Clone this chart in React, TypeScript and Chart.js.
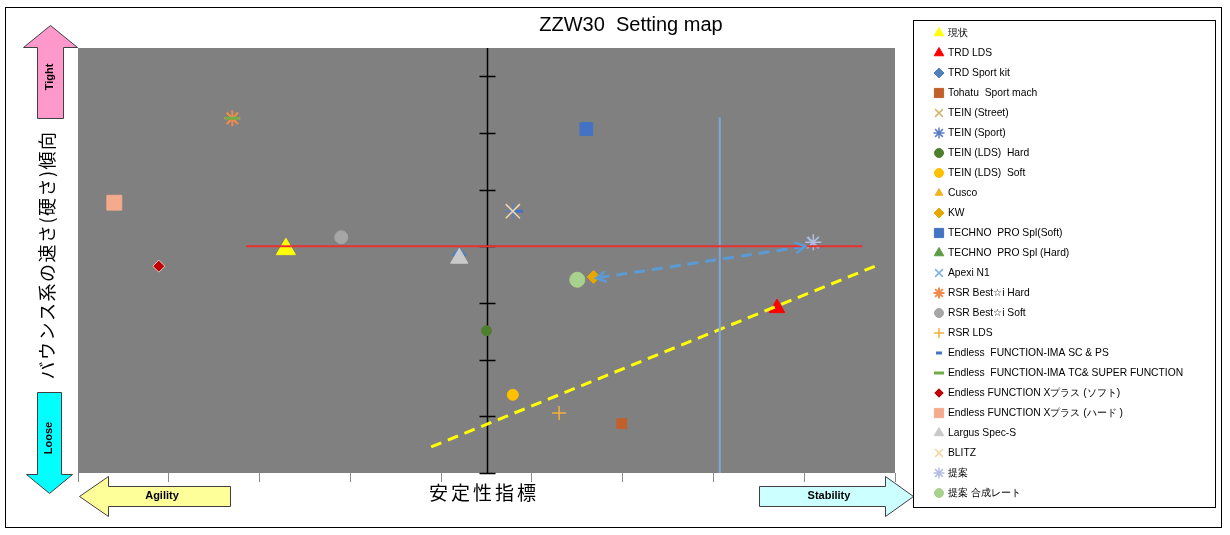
import { useEffect, useRef } from "react";
import { Chart, registerables, type Plugin } from "chart.js";
import { drawPoint } from "chart.js/helpers";

Chart.register(...registerables);

// ── Series (one setting each; null = no visible point) ───────────────────────
const SERIES_NAMES = [
  "現状",
  "TRD LDS",
  "TRD Sport kit",
  "Tohatu  Sport mach",
  "TEIN (Street)",
  "TEIN (Sport)",
  "TEIN (LDS)  Hard",
  "TEIN (LDS)  Soft",
  "Cusco",
  "KW",
  "TECHNO  PRO Spl(Soft)",
  "TECHNO  PRO Spl (Hard)",
  "Apexi N1",
  "RSR Best☆i Hard",
  "RSR Best☆i Soft",
  "RSR LDS",
  "Endless  FUNCTION-IMA SC & PS",
  "Endless  FUNCTION-IMA TC& SUPER FUNCTION",
  "Endless FUNCTION Xプラス (ソフト)",
  "Endless FUNCTION Xプラス (ハード )",
  "Largus Spec-S",
  "BLITZ",
  "提案",
  "提案 合成レート",
];

const SERIES_X: (number | null)[] = [
  2.29, 7.7, 4.2, 5.99, 1.7, 4.79, 4.5, 4.79, null, 5.68, 5.6, null,
  8.09, 1.7, 2.9, 5.3, 4.85, 1.7, 0.89, 0.4, 4.2, 4.79, 8.1, 5.5,
];

const SERIES_Y: (number | null)[] = [
  3.95, 2.91, 3.85, 0.87, 6.26, 4.62, 2.51, 1.38, null, 3.46, 6.07, null,
  4.06, 6.26, 4.16, 1.06, 4.62, 6.26, 3.65, 4.77, 3.79, 4.62, 4.07, 3.41,
];

// ── Guide lines drawn over the map ────────────────────────────────────────────
const RED_LINE_X = [1.85, 8.64];
const RED_LINE_Y = [4.0, 4.0];
const BLUE_LINE_X = [7.07, 7.07];
const BLUE_LINE_Y = [0, 6.28];
const YELLOW_LINE_X = [3.89, 8.78];
const YELLOW_LINE_Y = [0.46, 3.65];
const ARROW_X = [8.01, 5.71];
const ARROW_Y = [4.0, 3.44];

// axis ranges
const X_MIN = 0, X_MAX = 9;
const Y_MIN = 0, Y_MAX = 7.5;
const AXIS_CROSS_X = 4.5;

// ── Marker styles (same index as SERIES_NAMES) ────────────────────────────────
type Marker = { style: string; color: string; r: number; lr: number; border?: string; bw?: number };
const MARKERS: Marker[] = [
  { style: "triangle", color: "#FFFF00", r: 11, lr: 5.5 },
  { style: "triangle", color: "#FF0000", r: 9, lr: 5.5 },
  { style: "rectRot", color: "#4F81BD", r: 7, lr: 5 },
  { style: "rect", color: "#C0612B", r: 7, lr: 6.5 },
  { style: "crossRot", color: "#D2B46C", r: 8, lr: 5.5, bw: 1.5 },
  { style: "star", color: "#5B7FC4", r: 8, lr: 5.5, bw: 1.5 },
  { style: "circle", color: "#4E7F2C", r: 5, lr: 4.5 },
  { style: "circle", color: "#FFC000", r: 5.5, lr: 4.5 },
  { style: "triangle", color: "#F2B320", r: 6, lr: 4.5 },
  { style: "rectRot", color: "#E6A800", r: 6.5, lr: 5 },
  { style: "rect", color: "#4472C4", r: 9, lr: 6.5 },
  { style: "triangle", color: "#5E9B46", r: 7, lr: 5.5 },
  { style: "crossRot", color: "#7EB0E8", r: 8, lr: 5.5, bw: 1.5 },
  { style: "star", color: "#F08A4B", r: 8, lr: 5.5, bw: 2 },
  { style: "circle", color: "#A6A6A6", r: 6.5, lr: 4.5 },
  { style: "cross", color: "#F2B13A", r: 7, lr: 5, bw: 1.5 },
  { style: "line", color: "#4472C4", r: 5, lr: 3, bw: 3 },
  { style: "line", color: "#70AD47", r: 7, lr: 5, bw: 3 },
  { style: "rectRot", color: "#C00000", r: 6, lr: 5, border: "#E9C4C4", bw: 1 },
  { style: "rect", color: "#F4AA8C", r: 10.5, lr: 6.5 },
  { style: "triangle", color: "#C9C9C9", r: 10, lr: 5.5 },
  { style: "crossRot", color: "#F5D7A6", r: 10, lr: 5.5, bw: 1.5 },
  { style: "star", color: "#B4BDE0", r: 8, lr: 5.5, bw: 1.5 },
  { style: "circle", color: "#A9D18E", r: 7.5, lr: 4.5 },
];

const pts = (xs: number[], ys: number[]) => xs.map((x, i) => ({ x, y: ys[i] }));

// ── Block arrow call-outs (decoration, page pixels) ──────────────────────────
const CALLOUTS = [
  { text: "Tight", fill: "#FF99CC", rot: true, tx: 50, ty: 77,
    poly: [[50, 25], [77, 47], [63, 47], [63, 118], [37, 118], [37, 47], [23, 47]] },
  { text: "Loose", fill: "#00FFFF", rot: true, tx: 49, ty: 438,
    poly: [[37, 392], [61, 392], [61, 474], [72, 474], [49, 493], [26, 474], [37, 474]] },
  { text: "Agility", fill: "#FFFF99", rot: false, tx: 162, ty: 496,
    poly: [[79, 496], [108, 476], [108, 486], [230, 486], [230, 506], [108, 506], [108, 516]] },
  { text: "Stability", fill: "#CCFFFF", rot: false, tx: 829, ty: 496,
    poly: [[759, 486], [885, 486], [885, 476], [913, 496], [885, 516], [885, 506], [759, 506]] },
];

const ARROW_INDEX = SERIES_NAMES.length + 3;

const mapPlugin: Plugin = {
  id: "settingMap",
  beforeDraw(chart) {
    const { ctx, chartArea: a, width, height } = chart;
    ctx.save();
    ctx.fillStyle = "#fff";
    ctx.fillRect(0, 0, width, height);
    ctx.fillStyle = "#808080";
    ctx.fillRect(a.left, a.top, a.right - a.left, a.bottom - a.top);
    ctx.restore();
  },
  beforeDatasetsDraw(chart) {
    // vertical axis crossing the x scale, with cross tick marks
    const { ctx, chartArea: a, scales } = chart;
    const xs = scales.x, ys = scales.y;
    const px = Math.round(xs.getPixelForValue(AXIS_CROSS_X)) + 0.5;
    ctx.save();
    ctx.strokeStyle = "#000";
    ctx.lineWidth = 1.5;
    ctx.beginPath();
    ctx.moveTo(px, a.top);
    ctx.lineTo(px, a.bottom);
    ys.ticks.filter((t) => Number.isInteger(t.value)).forEach((t) => {
      const py = Math.round(ys.getPixelForValue(t.value)) + 0.5;
      ctx.moveTo(px - 8, py);
      ctx.lineTo(px + 8, py);
    });
    ctx.stroke();
    ctx.restore();
  },
  afterDatasetsDraw(chart) {
    // open arrow heads on both ends of the proposal arrow
    const { ctx } = chart;
    const el = chart.getDatasetMeta(ARROW_INDEX).data;
    if (el.length < 2) return;
    const ends = [[el[0], el[1]], [el[1], el[0]]];
    ctx.save();
    ctx.strokeStyle = "#5B9BD5";
    ctx.lineWidth = 2.5;
    ctx.lineCap = "round";
    ends.forEach(([tip, from]) => {
      const ang = Math.atan2(tip.y - from.y, tip.x - from.x);
      ctx.beginPath();
      ctx.moveTo(tip.x - 10 * Math.cos(ang - 0.5), tip.y - 10 * Math.sin(ang - 0.5));
      ctx.lineTo(tip.x, tip.y);
      ctx.lineTo(tip.x - 10 * Math.cos(ang + 0.5), tip.y - 10 * Math.sin(ang + 0.5));
      ctx.stroke();
    });
    ctx.restore();
  },
  afterDraw(chart) {
    const { ctx, width, height } = chart;
    ctx.save();

    // title
    ctx.fillStyle = "#000";
    ctx.textAlign = "center";
    ctx.textBaseline = "middle";
    ctx.font = '20px "Liberation Sans", Arial, sans-serif';
    ctx.fillText("ZZW30  Setting map", 631, 25);

    // axis titles
    ctx.font = '19px "Noto Sans CJK JP", sans-serif';
    (ctx as any).letterSpacing = "3px";
    ctx.fillText("安定性指標", 484, 493);
    ctx.font = '18px "Noto Sans CJK JP", sans-serif';
    (ctx as any).letterSpacing = "1.5px";
    ctx.save();
    ctx.translate(47, 255);
    ctx.rotate(-Math.PI / 2);
    ctx.fillText("バウンス系の速さ(硬さ)傾向", 0, 0);
    ctx.restore();
    (ctx as any).letterSpacing = "0px";

    // block arrows
    CALLOUTS.forEach((c) => {
      ctx.beginPath();
      c.poly.forEach(([x, y], i) => (i ? ctx.lineTo(x + 0.5, y + 0.5) : ctx.moveTo(x + 0.5, y + 0.5)));
      ctx.closePath();
      ctx.fillStyle = c.fill;
      ctx.fill();
      ctx.strokeStyle = "#404040";
      ctx.lineWidth = 1;
      ctx.stroke();
      ctx.fillStyle = "#000";
      ctx.font = 'bold 11px "Liberation Sans", Arial, sans-serif';
      ctx.save();
      ctx.translate(c.tx, c.ty);
      if (c.rot) ctx.rotate(-Math.PI / 2);
      ctx.fillText(c.text, 0, 0);
      ctx.restore();
    });

    // legend
    ctx.strokeStyle = "#000";
    ctx.lineWidth = 1;
    ctx.strokeRect(913.5, 20.5, 302, 487);
    ctx.textAlign = "left";
    ctx.font = '10.3px "Liberation Sans", Arial, sans-serif';
    SERIES_NAMES.forEach((name, i) => {
      const m = MARKERS[i];
      const y = 33 + i * 20;
      ctx.fillStyle = m.color;
      ctx.strokeStyle = m.border ?? m.color;
      ctx.lineWidth = m.bw ?? 1;
      drawPoint(ctx, { pointStyle: m.style as any, radius: m.lr, rotation: 0, borderWidth: m.bw ?? 1 }, 939, y);
      ctx.fillStyle = "#000";
      ctx.fillText(name, 948, y);
    });

    // outer frame
    ctx.strokeStyle = "#000";
    ctx.lineWidth = 1;
    ctx.strokeRect(5.5, 7.5, width - 14, height - 15);
    ctx.restore();
  },
};

export default function App() {
  const canvasRef = useRef<HTMLCanvasElement>(null);

  useEffect(() => {
    document.body.style.margin = "0";
    const canvas = canvasRef.current;
    if (!canvas) return;

    const pointSets = SERIES_NAMES.map((name, i) => {
      const m = MARKERS[i];
      const x = SERIES_X[i], y = SERIES_Y[i];
      return {
        type: "scatter" as const,
        label: name,
        data: x == null || y == null ? [] : [{ x, y }],
        pointStyle: m.style as any,
        pointRadius: m.r,
        pointHoverRadius: m.r,
        backgroundColor: m.color,
        borderColor: m.border ?? m.color,
        pointBorderWidth: m.bw ?? 1,
        order: -i,
      };
    });

    const lineSets = [
      { data: pts(RED_LINE_X, RED_LINE_Y), borderColor: "#E8312F", borderWidth: 2, borderDash: [] as number[] },
      { data: pts(BLUE_LINE_X, BLUE_LINE_Y), borderColor: "#7EA6D8", borderWidth: 2, borderDash: [] as number[] },
      { data: pts(YELLOW_LINE_X, YELLOW_LINE_Y), borderColor: "#FFFF00", borderWidth: 3, borderDash: [11, 7] },
      { data: pts(ARROW_X, ARROW_Y), borderColor: "#5B9BD5", borderWidth: 3, borderDash: [11, 7] },
    ].map((l) => ({
      type: "line" as const,
      label: "",
      ...l,
      pointRadius: 0,
      pointHoverRadius: 0,
      fill: false,
      tension: 0,
      order: -100,
    }));

    const chart = new Chart(canvas, {
      type: "scatter",
      data: { datasets: [...pointSets, ...lineSets] as any },
      plugins: [mapPlugin],
      options: {
        responsive: false,
        animation: false,
        events: [],
        layout: { padding: { left: 78, right: 335, top: 48, bottom: 53 } },
        plugins: {
          legend: { display: false },
          title: { display: false },
          tooltip: { enabled: false },
        },
        scales: {
          x: {
            type: "linear",
            min: X_MIN,
            max: X_MAX,
            ticks: { stepSize: 1, display: false },
            grid: { drawOnChartArea: false, drawTicks: true, tickLength: 9, color: "#8a8a8a" },
            border: { display: false },
          },
          y: {
            type: "linear",
            display: false,
            min: Y_MIN,
            max: Y_MAX,
            ticks: { stepSize: 1 },
          },
        },
      },
    });

    return () => chart.destroy();
  }, []);

  return (
    <div style={{ position: "relative", width: 1230, height: 535 }}>
      <canvas ref={canvasRef} width={1230} height={535} style={{ display: "block" }} />
    </div>
  );
}
